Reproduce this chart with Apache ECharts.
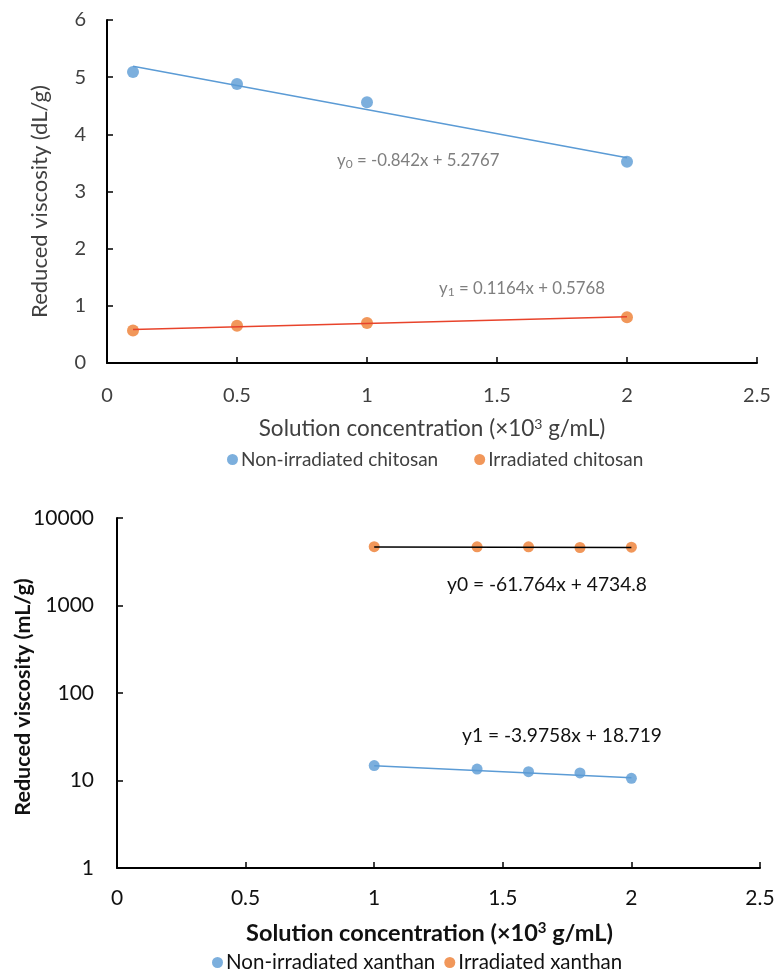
<!DOCTYPE html>
<html><head><meta charset="utf-8">
<script src="https://cdn.jsdelivr.net/npm/echarts@6/dist/echarts.min.js"></script>
<style>html,body{margin:0;padding:0;background:#fff}#c{width:776px;height:979px}</style>
</head><body><div id="c"></div>
<script>
// ---- Top chart: chitosan ----
const chitosanConc = [0.1, 0.5, 1, 2];
const nonIrrChitosan = [5.09, 4.88, 4.56, 3.52];
const irrChitosan = [0.57, 0.65, 0.70, 0.80];
const chitosanTrendX = [0.1, 2];
const nonIrrChitosanTrend = [5.19, 3.59];
const irrChitosanTrend = [0.588, 0.81];
const chitosanXTicks = [0, 0.5, 1, 1.5, 2, 2.5];
const chitosanYTicks = [0, 1, 2, 3, 4, 5, 6];

// ---- Bottom chart: xanthan ----
const xanthanConc = [1, 1.4, 1.6, 1.8, 2];
const nonIrrXanthan = [14.8, 13.5, 12.6, 12.2, 10.6];
const irrXanthan = [4700, 4680, 4690, 4600, 4640];
const xanthanTrendX = [1, 2];
const nonIrrXanthanTrend = [14.74, 10.77];
const irrXanthanTrend = [4673, 4611];
const xanthanXTicks = [0, 0.5, 1, 1.5, 2, 2.5];
const xanthanYTicks = [1, 10, 100, 1000, 10000];

const FONT = "Lato, 'Open Sans', sans-serif";
const BLUE = '#5b9bd5', ORANGE = '#ed7d31', RED = '#e8432b';

function pairs(xs, ys) { return xs.map((x, i) => [x, ys[i]]); }

const chart = echarts.init(document.getElementById('c'), null, {renderer: 'canvas'});

const axisLine = {show: true, lineStyle: {color: '#000', width: 2}};
const axisTick = {show: true, inside: true, length: 6, lineStyle: {color: '#000', width: 1.5}};

const option = {
  animation: false,
  backgroundColor: '#fff',
  textStyle: {fontFamily: FONT},
  grid: [
    {left: 107, top: 20, width: 650, height: 343, containLabel: false, outerBoundsMode: 'none'},
    {left: 117, top: 518, width: 643, height: 350, containLabel: false, outerBoundsMode: 'none'}
  ],
  xAxis: [
    {
      gridIndex: 0, type: 'value',
      min: chitosanXTicks[0], max: chitosanXTicks[chitosanXTicks.length - 1], interval: 0.5,
      axisLine, axisTick, splitLine: {show: false},
      axisLabel: {margin: 23, fontSize: 20, color: '#404040', fontFamily: FONT},
      name: '{a|Solution concentration (×10}{s|3}{a| g/mL)}',
      nameLocation: 'middle', nameGap: 54, nameMoveOverlap: false,
      nameTextStyle: {rich: {
        a: {fontSize: 22.5, color: '#404040', fontFamily: FONT},
        s: {fontSize: 14, color: '#404040', fontFamily: FONT, padding: [0, 0, 9, 0]}
      }}
    },
    {
      gridIndex: 1, type: 'value',
      min: xanthanXTicks[0], max: xanthanXTicks[xanthanXTicks.length - 1], interval: 0.5,
      axisLine, axisTick, splitLine: {show: false},
      axisLabel: {margin: 20, fontSize: 21, color: '#111', fontFamily: FONT},
      name: '{a|Solution concentration (×10}{s|3}{a| g/mL)}',
      nameLocation: 'middle', nameGap: 53, nameMoveOverlap: false,
      nameTextStyle: {padding: [0, 18, 0, 0], rich: {
        a: {fontSize: 23.5, fontWeight: 'bold', color: '#111', fontFamily: FONT},
        s: {fontSize: 15, fontWeight: 'bold', color: '#111', fontFamily: FONT, padding: [0, 0, 9, 0]}
      }}
    }
  ],
  yAxis: [
    {
      gridIndex: 0, type: 'value',
      min: chitosanYTicks[0], max: chitosanYTicks[chitosanYTicks.length - 1], interval: 1,
      axisLine, axisTick, splitLine: {show: false},
      axisLabel: {margin: 21, fontSize: 20, color: '#404040', fontFamily: FONT},
      name: 'Reduced viscosity (dL/g)', nameLocation: 'middle', nameGap: 56, nameMoveOverlap: false,
      nameTextStyle: {fontSize: 22, color: '#404040', fontFamily: FONT, padding: [0, 0, 0, -20]}
    },
    {
      gridIndex: 1, type: 'log', logBase: 10,
      min: xanthanYTicks[0], max: xanthanYTicks[xanthanYTicks.length - 1],
      axisLine, axisTick, splitLine: {show: false}, minorTick: {show: false},
      axisLabel: {margin: 23, fontSize: 21, color: '#111', fontFamily: FONT,
        formatter: v => String(Math.round(v))},
      name: 'Reduced viscosity (mL/g)', nameLocation: 'middle', nameGap: 83, nameMoveOverlap: false,
      nameTextStyle: {fontSize: 21.5, fontWeight: 'bold', color: '#111', fontFamily: FONT, padding: [0, 0, 0, -8]}
    }
  ],
  legend: [
    {
      data: ['Non-irradiated chitosan', 'Irradiated chitosan'],
      left: 222, top: 445, icon: 'circle', itemWidth: 11, itemHeight: 11, itemGap: 36,
      textStyle: {fontSize: 19, color: '#404040', fontFamily: FONT, padding: [0, 0, 0, -2]}
    },
    {
      data: ['Non-irradiated xanthan', 'Irradiated xanthan'],
      left: 207, top: 947, icon: 'circle', itemWidth: 11, itemHeight: 11, itemGap: 9,
      textStyle: {fontSize: 20.5, color: '#111', fontFamily: FONT, padding: [0, 0, 0, -2]}
    }
  ],
  series: [
    {name: 'Non-irradiated chitosan', type: 'scatter', xAxisIndex: 0, yAxisIndex: 0,
      data: pairs(chitosanConc, nonIrrChitosan), symbolSize: 12, itemStyle: {color: BLUE}, z: 2},
    {name: 'Irradiated chitosan', type: 'scatter', xAxisIndex: 0, yAxisIndex: 0,
      data: pairs(chitosanConc, irrChitosan), symbolSize: 12, itemStyle: {color: ORANGE}, z: 2},
    {name: 'trend-non-chitosan', type: 'line', xAxisIndex: 0, yAxisIndex: 0,
      data: pairs(chitosanTrendX, nonIrrChitosanTrend), showSymbol: false, symbol: 'none',
      lineStyle: {color: BLUE, width: 1.5}, itemStyle: {color: BLUE}, z: 3},
    {name: 'trend-irr-chitosan', type: 'line', xAxisIndex: 0, yAxisIndex: 0,
      data: pairs(chitosanTrendX, irrChitosanTrend), showSymbol: false, symbol: 'none',
      lineStyle: {color: RED, width: 1.5}, itemStyle: {color: RED}, z: 3},

    {name: 'Non-irradiated xanthan', type: 'scatter', xAxisIndex: 1, yAxisIndex: 1,
      data: pairs(xanthanConc, nonIrrXanthan), symbolSize: 11, itemStyle: {color: BLUE}, z: 2},
    {name: 'Irradiated xanthan', type: 'scatter', xAxisIndex: 1, yAxisIndex: 1,
      data: pairs(xanthanConc, irrXanthan), symbolSize: 11, itemStyle: {color: ORANGE}, z: 2},
    {name: 'trend-non-xanthan', type: 'line', xAxisIndex: 1, yAxisIndex: 1,
      data: pairs(xanthanTrendX, nonIrrXanthanTrend), showSymbol: false, symbol: 'none',
      lineStyle: {color: BLUE, width: 1.5}, itemStyle: {color: BLUE}, z: 3},
    {name: 'trend-irr-xanthan', type: 'line', xAxisIndex: 1, yAxisIndex: 1,
      data: pairs(xanthanTrendX, irrXanthanTrend), showSymbol: false, symbol: 'none',
      lineStyle: {color: '#000', width: 1.5}, itemStyle: {color: '#000'}, z: 3}
  ],
  graphic: [
    {type: 'text', left: 337, top: 152, z: 10, style: {
      text: '{a|y}{s|0}{a| = -0.842x + 5.2767}', fill: '#7f7f7f',
      rich: {a: {fontSize: 16.8, fill: '#7f7f7f', fontFamily: FONT},
             s: {fontSize: 12, fill: '#7f7f7f', fontFamily: FONT, padding: [8, 0, 0, 0]}}}},
    {type: 'text', left: 439, top: 280, z: 10, style: {
      text: '{a|y}{s|1}{a| = 0.1164x + 0.5768}', fill: '#7f7f7f',
      rich: {a: {fontSize: 16.8, fill: '#7f7f7f', fontFamily: FONT},
             s: {fontSize: 12, fill: '#7f7f7f', fontFamily: FONT, padding: [8, 0, 0, 0]}}}},
    {type: 'text', left: 447, top: 575, z: 10, style: {
      text: 'y0 = -61.764x + 4734.8', fill: '#111', fontSize: 19.2, fontFamily: FONT}},
    {type: 'text', left: 462, top: 726, z: 10, style: {
      text: 'y1 = -3.9758x + 18.719', fill: '#111', fontSize: 19.2, fontFamily: FONT}}
  ]
};
chart.setOption(option);
</script>
</body></html>
